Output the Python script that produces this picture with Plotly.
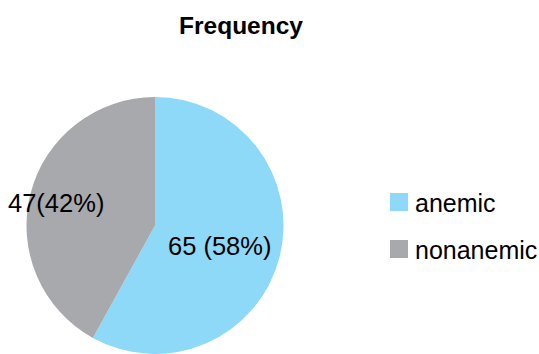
import plotly.graph_objects as go

labels = ["anemic", "nonanemic"]
values = [65, 47]
colors = ["#8ED8F8", "#A7A9AC"]
separators = [" ", ""]  # space between count and percent in each slice label

W, H = 539, 354
FONT = "Liberation Sans, Arial, sans-serif"

total = sum(values)
slice_text = [f"{v}{sep}({round(100 * v / total)}%)" for v, sep in zip(values, separators)]

fig = go.Figure()
fig.add_trace(go.Pie(
    labels=labels,
    values=values,
    sort=False,
    direction="clockwise",
    rotation=0,
    marker=dict(colors=colors, line=dict(width=0)),
    textinfo="none",
    domain=dict(x=[25 / W, 285 / W], y=[0, 1 - 97 / H]),
    hoverinfo="label+value+percent",
    showlegend=False,
))

# slice labels (positions as in the reference)
label_pos = [(219, 246), (56, 203)]
for txt, (px, py) in zip(slice_text, label_pos):
    fig.add_annotation(
        text=txt, x=px / W, y=1 - py / H, xref="paper", yref="paper",
        xanchor="center", yanchor="middle", showarrow=False,
        font=dict(family=FONT, size=25.5, color="black"),
    )

# legend (square swatches + labels)
legend_rows = [202, 249]
for lab, col, cy in zip(labels, colors, legend_rows):
    fig.add_shape(
        type="rect", xref="paper", yref="paper",
        x0=390 / W, x1=408 / W, y0=1 - (cy + 9) / H, y1=1 - (cy - 9) / H,
        fillcolor=col, line=dict(width=0),
    )
    fig.add_annotation(
        text=lab, x=413 / W, y=1 - (cy + 1) / H, xref="paper", yref="paper",
        xanchor="left", yanchor="middle", showarrow=False,
        font=dict(family=FONT, size=25, color="black"),
    )

fig.update_layout(
    width=W,
    height=H,
    margin=dict(l=0, r=0, t=0, b=0),
    paper_bgcolor="white",
    plot_bgcolor="white",
    font=dict(family=FONT, color="black"),
    title=dict(
        text="<b>Frequency</b>",
        x=241 / W,
        xanchor="center",
        y=1 - 25 / H,
        yanchor="middle",
        yref="container",
        font=dict(family=FONT, size=24.5, color="black"),
    ),
    showlegend=False,
)

fig.write_html("out.html")
